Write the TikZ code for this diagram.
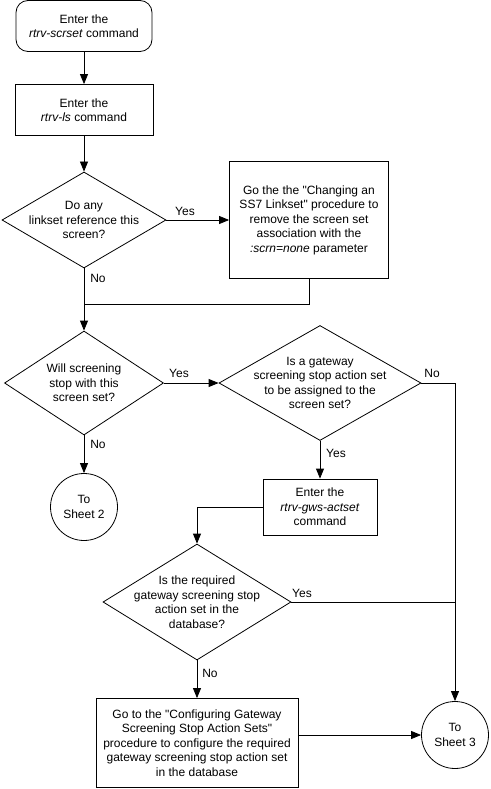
\documentclass[tikz,border=0pt]{standalone}
\usepackage{fontspec}
\setmainfont{Liberation Sans}
\usetikzlibrary{arrows.meta,shapes.geometric}

\begin{document}
\begin{tikzpicture}[x=1pt,y=-1pt,line width=0.8pt,
  box/.style={rectangle,draw,align=center,inner sep=2pt},
  start box/.style={box,rounded corners=12pt},
  decision/.style={diamond,draw,align=center,inner sep=-12pt,aspect=1.7},
  sheet/.style={circle,draw,align=center,inner sep=0pt,minimum size=67pt},
  arr/.style={-{Triangle[length=10pt,width=8pt]}}]
\useasboundingbox (0,0) rectangle (490,789);
\begin{scope}[every node/.style={font=\fontsize{12}{14.5}\selectfont}]
\node[start box,minimum width=136pt,minimum height=51pt] (scrset) at (84,26) {Enter the\\\textit{rtrv-scrset} command};
\node[box,minimum width=138pt,minimum height=51pt] (rtrvls) at (84,110) {Enter the\\\textit{rtrv-ls} command};
\node[decision,minimum width=164pt,minimum height=96pt] (lsref) at (84,220) {Do any\\linkset reference this\\screen?};
\node[box,minimum width=159pt,minimum height=117pt] (chgls) at (309,220) {Go the the \textquotedbl Changing an\\SS7 Linkset\textquotedbl{} procedure to\\remove the screen set\\association with the\\\textit{:scrn=none} parameter};
\node[decision,minimum width=159pt,minimum height=104pt] (stop) at (84,383) {Will screening\\stop with this\\screen set?};
\node[decision,minimum width=202pt,minimum height=115pt] (gwsq) at (320,383) {Is a gateway\\screening stop action set\\to be assigned to the\\screen set?};
\node[sheet] (sheet2) at (84,507) {To\\Sheet 2};
\node[box,minimum width=114pt,minimum height=56pt] (actset) at (320,507) {Enter the\\\textit{rtrv-gws-actset}\\command};
\node[decision,minimum width=188pt,minimum height=116pt] (inDB) at (197,602) {Is the required\\gateway screening stop\\action set in the\\database?};
\node[box,minimum width=202pt,minimum height=89pt] (cfgset) at (197,743) {Go to the \textquotedbl Configuring Gateway\\Screening Stop Action Sets\textquotedbl\\procedure to configure the required\\gateway screening stop action set\\in the database};
\node[sheet] (sheet3) at (455,735) {To\\Sheet 3};
% yes / no labels
\node (yes1) at (185,211) {Yes};
\node (no1) at (98,278) {No};
\node (yes2) at (179,373) {Yes};
\node (no2) at (98,444) {No};
\node (no3) at (432,373) {No};
\node (yes3) at (336,453) {Yes};
\node (yes4) at (302,593) {Yes};
\node (no4) at (210,673) {No};
\end{scope}
\coordinate (join) at (84,304);
\draw[arr] (scrset) -- (rtrvls);
\draw[arr] (rtrvls) -- (lsref);
\draw[arr] (lsref) -- (chgls);
\draw (chgls.south) |- (join);
\draw[arr] (lsref.south) -- (stop.north);
\draw[arr] (stop) -- (gwsq);
\draw[arr] (stop) -- (sheet2);
\draw[arr] (gwsq.east) -| (sheet3.north);
\draw[arr] (gwsq) -- (actset);
\draw[arr] (actset.west) -| (inDB.north);
\draw (inDB.east) -- (inDB.east -| sheet3.north);
\draw[arr] (inDB) -- (cfgset);
\draw[arr] (cfgset.east |- sheet3.west) -- (sheet3.west);
\end{tikzpicture}
\end{document}
